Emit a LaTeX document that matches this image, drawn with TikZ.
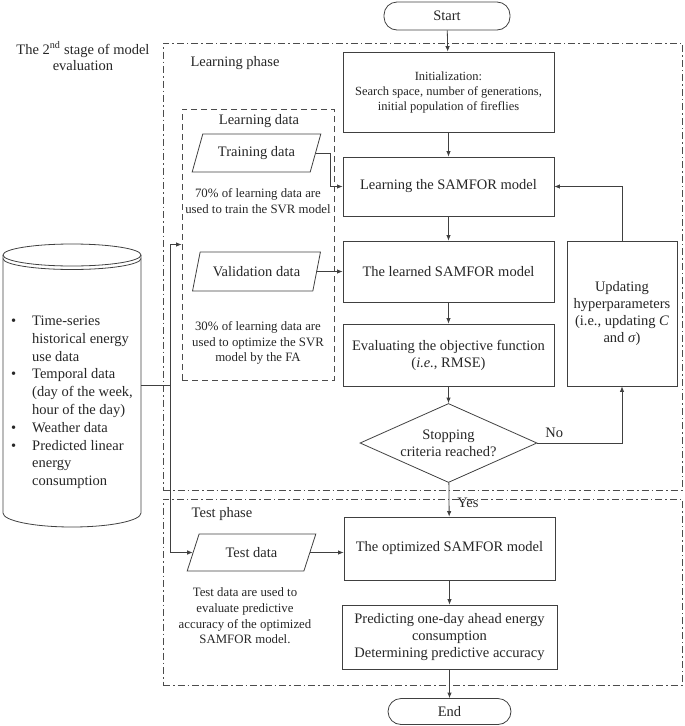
\documentclass[tikz,border=0pt]{standalone}
\usepackage{fontspec}
\setmainfont{Liberation Serif}
\usetikzlibrary{shapes.geometric,arrows.meta,calc}
\newcommand\mainsz{\fontsize{14.5}{17}\selectfont}
\newcommand\smallsz{\fontsize{12.8}{15.7}\selectfont}
\newcommand\initsz{\fontsize{12.5}{15}\selectfont}
\begin{document}
\begin{tikzpicture}[x=1pt,y=-1pt,
 every node/.style={text=black!85},
 ln/.style={draw=black!75,line width=0.8pt},
 arr/.style={ln,-{Latex[length=5.5pt,width=4.5pt]}},
 box/.style={draw=black!75,line width=0.8pt,rectangle,align=center,font=\mainsz,inner sep=2pt},
 term/.style={box,rounded corners=13pt},
 para/.style={draw=black!75,line width=0.8pt,trapezium,trapezium left angle=60,trapezium right angle=120,trapezium stretches=true,font=\mainsz,inner sep=0pt},
 phase/.style={draw=black!70,line width=0.8pt,dash pattern=on 7pt off 3pt on 1.5pt off 3pt},
 ldata/.style={draw=black!70,line width=0.8pt,dash pattern=on 6pt off 4pt},
 lbl/.style={font=\mainsz,align=center,inner sep=0pt},
 small/.style={font=\smallsz,align=center,inner sep=0pt}]
\useasboundingbox (0,0) rectangle (685,726);

% phase frames
\node[phase,minimum width=519pt,minimum height=447pt] (lp) at (422.5,266.5) {};
\node[phase,minimum width=519pt,minimum height=186pt] (tp) at (422.5,592) {};
\node[ldata,minimum width=152pt,minimum height=271pt] (ldbox) at (258,244.5) {};

% labels
\node[lbl,font=\fontsize{14.5}{16}\selectfont] (title) at (83,56) {The 2\textsuperscript{nd} stage of model\\evaluation};
\node[lbl] (lplbl) at (235,63) {Learning phase};
\node[lbl] (ldlbl) at (259,121) {Learning data};
\node[lbl] (tplbl) at (222,514) {Test phase};
\node[small] (cap70) at (258,201) {70\% of learning data are\\used to train the SVR model};
\node[small] (cap30) at (258,343) {30\% of learning data are\\used to optimize the SVR\\model by the FA};
\node[small] (captest) at (245,616) {Test data are used to\\evaluate predictive\\accuracy of the optimized\\SAMFOR model.};

% main flow
\node[term,minimum width=126pt,minimum height=28pt] (start) at (447,16) {Start};
\node[box,font=\initsz,minimum width=211pt,minimum height=80pt] (init) at (448.5,92) {Initialization:\\Search space, number of generations,\\initial population of fireflies};
\node[box,minimum width=211pt,minimum height=59pt] (learn) at (448.5,186.5) {Learning the SAMFOR model};
\node[box,minimum width=211pt,minimum height=61pt] (learned) at (448.5,271.5) {The learned SAMFOR model};
\node[box,minimum width=211pt,minimum height=62pt] (eval) at (448.5,355) {Evaluating the objective function\\(\textit{i.e.}, RMSE)};
\node[draw=black!75,line width=0.8pt,diamond,aspect=2.24,inner sep=0pt,minimum width=177pt,minimum height=79pt,align=center,font=\mainsz] (dia) at (448.5,443) {Stopping\\criteria reached?};
\node[box,minimum width=110pt,minimum height=145pt] (update) at (622,313.5) {Updating\\hyperparameters\\(i.e., updating \textit{C}\\and \textit{σ})};
\node[box,minimum width=211pt,minimum height=63pt] (opt) at (449.5,548.5) {The optimized SAMFOR model};
\node[box,minimum width=215pt,minimum height=64pt] (pred) at (449.5,637) {Predicting one-day ahead energy\\consumption\\Determining predictive accuracy};
\node[term,minimum width=123pt,minimum height=26pt] (end) at (449.5,711.5) {End};

% data parallelograms
\node[para,minimum width=129pt,minimum height=38pt] (train) at (256.5,153) {Training data};
\node[para,minimum width=129pt,minimum height=39pt] (valid) at (256.5,271.5) {Validation data};
\node[para,minimum width=129pt,minimum height=37pt] (test) at (251.5,552.5) {Test data};

% database cylinder
\draw[ln] (3,255) -- (3,513) arc[start angle=180,end angle=0,x radius=69,y radius=14] -- (141,255);
\draw[ln] (72,255) ellipse[x radius=69,y radius=11];
\draw[ln] (3,258.5) arc[start angle=180,end angle=0,x radius=69,y radius=11];
\node[anchor=west,inner sep=0pt,font=\fontsize{14.5}{17.8}\selectfont] (dbtext) at (11,402)
 {\begin{tabular}{@{}l@{}l@{}}
 \makebox[21pt][l]{\textbullet} & Time-series\\
 & historical energy\\
 & use data\\
 \makebox[21pt][l]{\textbullet} & Temporal data\\
 & (day of the week,\\
 & hour of the day)\\
 \makebox[21pt][l]{\textbullet} & Weather data\\
 \makebox[21pt][l]{\textbullet} & Predicted linear\\
 & energy\\
 & consumption
 \end{tabular}};
\coordinate (dbout) at (141,385);
\coordinate (bus) at (170,0);
\coordinate (jog) at (330,0);

% connectors
\draw[arr] (start) -- (init);
\draw[arr] (init) -- (learn);
\draw[arr] (learn) -- (learned);
\draw[arr] (learned) -- (eval);
\draw[arr] (eval) -- (dia);
\draw[arr] (dia) -- node[right,font=\mainsz,inner sep=8pt,pos=0.6] {Yes} (opt);
\draw[arr] (dia.east) -| node[above,font=\mainsz,pos=0.1,inner sep=5pt] {No} (update.south);
\draw[arr] (update.north) |- (learn.east);
\draw[arr] (train.east) -- (train.east -| jog) |- (learn.west);
\draw[arr] (valid.east) -- (valid.east -| learned.west);
\draw[ln] (dbout) -- (dbout -| bus);
\draw[arr] (ldbox.west -| bus) -- (ldbox.west);
\draw[arr] (ldbox.west -| bus) -- (test.west -| bus) -- (test.west);
\draw[arr] (test.east) -- (test.east -| opt.west);
\draw[arr] (opt) -- (pred);
\draw[arr] (pred) -- (end);
\end{tikzpicture}
\end{document}
